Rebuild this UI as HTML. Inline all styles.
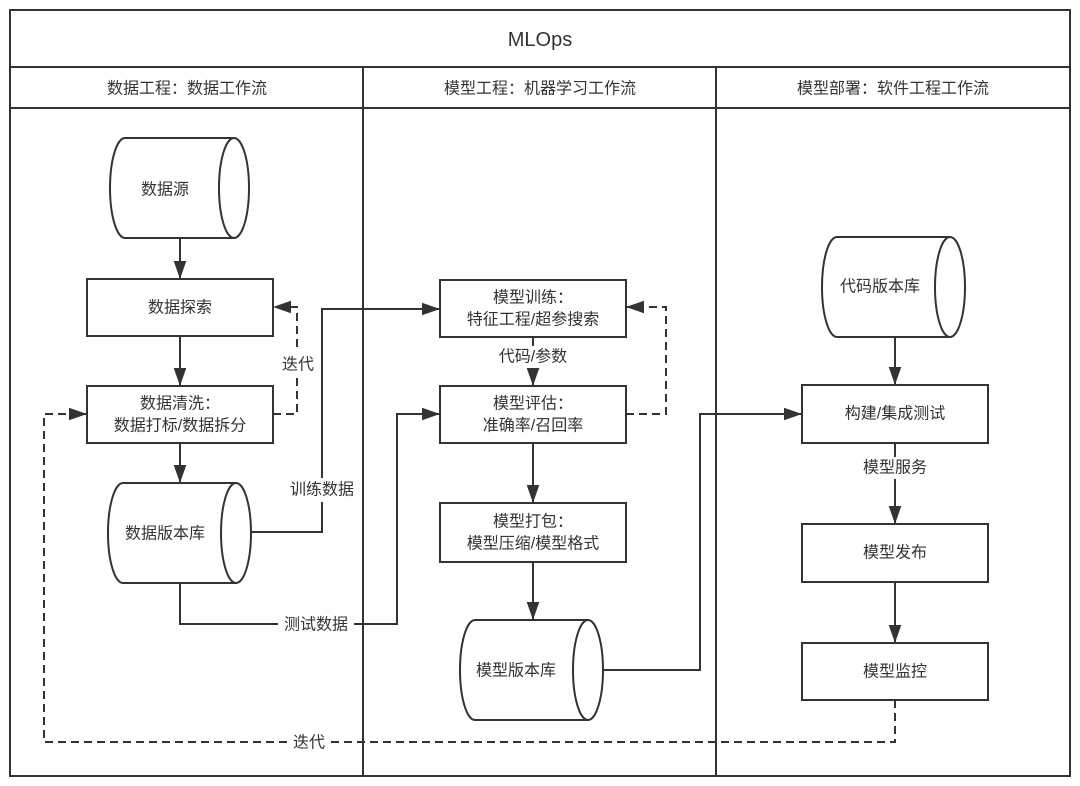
<!DOCTYPE html>
<html><head><meta charset="utf-8"><style>
html,body{margin:0;padding:0;background:#fff;width:1080px;height:786px;overflow:hidden}
text{font-family:"Liberation Sans","Noto Sans CJK SC",sans-serif;font-size:16px;fill:#333;text-anchor:middle;dominant-baseline:central}
</style></head><body>
<svg width="1080" height="786" viewBox="0 0 1080 786" xmlns="http://www.w3.org/2000/svg">
<defs>
<marker id="b" viewBox="0 0 10 10" refX="10" refY="5" markerWidth="18" markerHeight="18" orient="auto" markerUnits="userSpaceOnUse"><path d="M0,1.5L10,5L0,8.5z" fill="#333"/></marker></defs>
<g fill="none" stroke="#333" stroke-width="2">
<rect x="10" y="10" width="1060" height="766"/>
<line x1="10" y1="67" x2="1070" y2="67"/>
<line x1="10" y1="108" x2="1070" y2="108"/>
<line x1="363" y1="67" x2="363" y2="776"/>
<line x1="716" y1="67" x2="716" y2="776"/>
<path d="M234,138 H125 A15,50 0 0 0 125,238 H234"/><ellipse cx="234" cy="188" rx="15" ry="50"/>
<path d="M236,483 H123 A15,50 0 0 0 123,583 H236"/><ellipse cx="236" cy="533" rx="15" ry="50"/>
<path d="M588,620 H475 A15,50 0 0 0 475,720 H588"/><ellipse cx="588" cy="670" rx="15" ry="50"/>
<path d="M950,237 H837 A15,50 0 0 0 837,337 H950"/><ellipse cx="950" cy="287" rx="15" ry="50"/>
<rect x="87" y="279" width="186" height="57"/>
<rect x="87" y="386" width="186" height="57"/>
<rect x="440" y="280" width="186" height="57"/>
<rect x="440" y="386" width="186" height="57"/>
<rect x="440" y="503" width="186" height="59"/>
<rect x="802" y="385" width="186" height="58"/>
<rect x="802" y="524" width="186" height="58"/>
<rect x="802" y="643" width="186" height="57"/>
<g marker-end="url(#b)">
<line x1="180" y1="238" x2="180" y2="279"/>
<line x1="180" y1="336" x2="180" y2="386"/>
<line x1="180" y1="443" x2="180" y2="483"/>
<line x1="533" y1="337" x2="533" y2="386"/>
<line x1="533" y1="443" x2="533" y2="503"/>
<line x1="533" y1="562" x2="533" y2="620"/>
<line x1="895" y1="337" x2="895" y2="385"/>
<line x1="895" y1="443" x2="895" y2="524"/>
<line x1="895" y1="582" x2="895" y2="643"/>
<polyline points="251,532 322,532 322,309 440,309"/>
<polyline points="180,583 180,624 397,624 397,414 440,414"/>
<polyline points="603,670 700,670 700,414 802,414"/>
<polyline points="273,414 297,414 297,307 273,307" stroke-dasharray="8,5"/>
<polyline points="626,414 666,414 666,307 626,307" stroke-dasharray="8,5"/>
<polyline points="895,700 895,742 44,742 44,414 87,414" stroke-dasharray="8,5"/>
</g>
</g>
<rect x="280" y="352" width="36" height="24" fill="#fff"/>
<rect x="282" y="478" width="80" height="24" fill="#fff"/>
<rect x="278" y="614" width="76" height="22" fill="#fff"/>
<rect x="288" y="732" width="42" height="22" fill="#fff"/>
<rect x="492" y="346" width="82" height="22" fill="#fff"/>
<rect x="855" y="457" width="80" height="22" fill="#fff"/>
<text x="540" y="40" style="font-size:20px">MLOps</text>
<text x="187" y="89">数据工程：数据工作流</text>
<text x="540" y="89">模型工程：机器学习工作流</text>
<text x="893" y="89">模型部署：软件工程工作流</text>
<text x="165" y="190">数据源</text>
<text x="180" y="308">数据探索</text>
<text x="180" y="404">数据清洗：</text>
<text x="180" y="426">数据打标/数据拆分</text>
<text x="165" y="534">数据版本库</text>
<text x="298" y="365">迭代</text>
<text x="322" y="490">训练数据</text>
<text x="316" y="625">测试数据</text>
<text x="309" y="743">迭代</text>
<text x="533" y="298">模型训练：</text>
<text x="533" y="320">特征工程/超参搜索</text>
<text x="533" y="357">代码/参数</text>
<text x="533" y="404">模型评估：</text>
<text x="533" y="426">准确率/召回率</text>
<text x="533" y="522">模型打包：</text>
<text x="533" y="544">模型压缩/模型格式</text>
<text x="516" y="671">模型版本库</text>
<text x="880" y="287">代码版本库</text>
<text x="895" y="414">构建/集成测试</text>
<text x="895" y="468">模型服务</text>
<text x="895" y="553">模型发布</text>
<text x="895" y="672">模型监控</text>
</svg>
</body></html>
